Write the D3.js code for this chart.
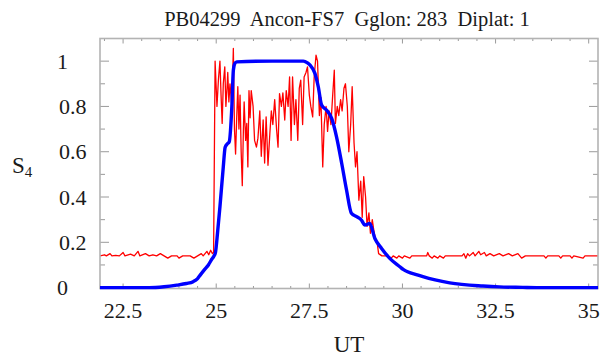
<!DOCTYPE html>
<html><head><meta charset="utf-8">
<script src="https://cdn.jsdelivr.net/npm/d3@7"></script>
<style>
body{margin:0;background:#fff}
text{font-family:"Liberation Serif","Times New Roman",serif;fill:#1a1a1a}
</style>
</head><body>
<svg id="c" width="600" height="357"></svg>
<script>
const title = "PB04299  Ancon-FS7  Gglon: 283  Diplat: 1";
const xLabel = "UT";
const xTicks = [22.5, 25, 27.5, 30, 32.5, 35];
const xTickLabels = ["22.5", "25", "27.5", "30", "32.5", "35"];
const yTicks = [0, 0.2, 0.4, 0.6, 0.8, 1];
const yTickLabels = ["0", "0.2", "0.4", "0.6", "0.8", "1"];

const blueUT = [21.88, 23.2, 23.6, 23.94, 24.2, 24.38, 24.5, 24.57, 24.68, 24.79, 24.88, 24.94, 24.98, 25.04, 25.1, 25.19, 25.24, 25.3, 25.35, 25.42, 25.46, 25.5, 25.55, 26.5, 27.34, 27.45, 27.52, 27.65, 27.74, 27.83, 27.96, 28.1, 28.23, 28.37, 28.5, 28.63, 28.77, 28.9, 28.99, 29.12, 29.26, 29.44, 29.66, 29.93, 30.02, 30.42, 30.55, 31.27, 32.16, 32.6, 33.23, 33.6, 35.25];
const blueS4 = [0, 0, 0.004, 0.011, 0.018, 0.026, 0.04, 0.055, 0.078, 0.1, 0.125, 0.139, 0.155, 0.25, 0.357, 0.533, 0.62, 0.635, 0.644, 0.8, 0.96, 0.99, 0.997, 1.0, 1.0, 0.992, 0.982, 0.946, 0.887, 0.806, 0.784, 0.747, 0.666, 0.548, 0.43, 0.328, 0.313, 0.298, 0.276, 0.283, 0.217, 0.173, 0.129, 0.092, 0.08, 0.055, 0.048, 0.021, 0.007, 0.003, 0.001, 0, 0];

const redUT = [21.88, 22.0, 22.05, 22.15, 22.2, 22.3, 22.4, 22.5, 22.55, 22.7, 22.8, 22.9, 22.95, 23.1, 23.2, 23.3, 23.4, 23.5, 23.6, 23.7, 23.8, 23.95, 24.0, 24.1, 24.3, 24.4, 24.5, 24.6, 24.65, 24.75, 24.8, 24.85, 24.9, 24.93,
 24.97, 25.02, 25.06, 25.1, 25.13, 25.16, 25.19, 25.23, 25.26, 25.29, 25.31, 25.34, 25.37, 25.42, 25.46, 25.49, 25.52, 25.55, 25.58, 25.61, 25.64, 25.67, 25.7, 25.73, 25.75, 25.79, 25.82, 25.85, 25.88, 25.91,
 25.94, 25.99, 26.03, 26.08, 26.12, 26.17, 26.21, 26.26, 26.3, 26.34, 26.39, 26.44, 26.48, 26.52, 26.57, 26.62, 26.66, 26.7, 26.75, 26.79, 26.84, 26.88, 26.93, 26.97, 27.01,
 27.05, 27.1, 27.14, 27.19, 27.23, 27.27, 27.32, 27.36, 27.41, 27.45, 27.5, 27.54, 27.59, 27.63, 27.68, 27.72, 27.77, 27.81, 27.86, 27.9, 27.95, 27.99, 28.03, 28.08, 28.12, 28.17,
 28.2, 28.25, 28.29, 28.34, 28.38, 28.43, 28.47, 28.52, 28.56, 28.61, 28.65, 28.7, 28.74, 28.78, 28.83, 28.88, 28.92, 28.96, 29.01, 29.05, 29.1, 29.14, 29.19, 29.23, 29.28, 29.32,
 29.36, 29.45, 29.6, 29.7, 29.75, 29.85, 29.9, 30.0, 30.05, 30.2, 30.25, 30.5, 30.65, 30.68, 30.72, 30.8, 30.85, 30.95, 31.0, 31.1, 31.15, 31.3, 31.6, 31.65, 31.7, 31.75, 31.8, 31.9, 31.95, 32.05, 32.1, 32.2, 32.25, 32.35, 32.45, 32.6, 32.7, 32.85, 32.95, 33.1, 33.2, 33.3, 33.8, 33.85, 33.9, 34.2, 34.25, 34.3, 34.5, 34.55, 34.6, 34.85, 34.9, 35.25];
const redS4 = [0.14, 0.145, 0.14, 0.15, 0.14, 0.142, 0.14, 0.155, 0.14, 0.148, 0.14, 0.16, 0.14, 0.15, 0.14, 0.145, 0.14, 0.15, 0.14, 0.13, 0.14, 0.14, 0.13, 0.14, 0.14, 0.13, 0.14, 0.15, 0.14, 0.16, 0.145, 0.165, 0.15, 0.155,
 1.0, 0.8, 0.92, 1.0, 0.85, 0.725, 0.9, 0.975, 0.8, 0.88, 0.95, 0.82, 0.9, 0.8, 1.056, 0.7, 0.59, 0.75, 0.887, 0.7, 0.85, 0.6, 0.45, 0.7, 0.82, 0.65, 0.725, 0.533, 0.87, 0.75,
 0.87, 0.8, 0.65, 0.62, 0.66, 0.78, 0.58, 0.74, 0.55, 0.754, 0.54, 0.68, 0.78, 0.72, 0.83, 0.7, 0.62, 0.857, 0.8, 0.86, 0.74, 0.87, 0.8, 0.93, 0.65,
 0.93, 0.72, 0.83, 0.65, 0.88, 0.916, 0.72, 0.93, 0.95, 0.975, 0.85, 0.8, 0.754, 0.93, 1.027, 1.0, 0.76, 0.84, 0.533, 0.72, 0.8, 0.69, 0.78, 0.72, 0.83, 0.96,
 0.725, 0.8, 0.76, 0.83, 0.78, 0.88, 0.9, 0.8, 0.6, 0.72, 0.887, 0.64, 0.533, 0.6, 0.386, 0.47, 0.31, 0.49, 0.4, 0.27, 0.33, 0.24, 0.3, 0.254, 0.21, 0.2,
 0.15, 0.14, 0.14, 0.13, 0.14, 0.13, 0.14, 0.13, 0.14, 0.13, 0.14, 0.14, 0.14, 0.155, 0.14, 0.13, 0.14, 0.13, 0.14, 0.13, 0.14, 0.14, 0.14, 0.15, 0.13, 0.15, 0.14, 0.155, 0.14, 0.16, 0.145, 0.155, 0.14, 0.15, 0.14, 0.15, 0.14, 0.15, 0.14, 0.15, 0.13, 0.14, 0.14, 0.13, 0.14, 0.14, 0.13, 0.14, 0.14, 0.13, 0.14, 0.13, 0.14, 0.14];

const svg = d3.select("#c");
const L = 100, R = 598, T = 38.5, B = 288.5;
const x = d3.scaleLinear().domain([21.88, 35.25]).range([L, R]);
const y = d3.scaleLinear().domain([-0.004, 1.1]).range([B, T]);

const xMinor = d3.range(22, 35.01, 0.5);
const yMinor = d3.range(0, 1.051, 0.1);
const frameCol = "#b3b3b3", tickCol = "#9a9a9a";

svg.append("clipPath").attr("id", "pc").append("rect")
  .attr("x", L).attr("y", T).attr("width", R - L).attr("height", B - T + 2);

// ticks
const tg = svg.append("g").attr("stroke", tickCol).attr("stroke-width", 1);
xMinor.forEach(v => {
  const major = xTicks.some(t => Math.abs(t - v) < 1e-6);
  const len = major ? 5 : 2.5;
  tg.append("line").attr("x1", x(v)).attr("x2", x(v)).attr("y1", B).attr("y2", B - len);
  tg.append("line").attr("x1", x(v)).attr("x2", x(v)).attr("y1", T).attr("y2", T + len);
});
yMinor.forEach(v => {
  const major = yTicks.some(t => Math.abs(t - v) < 1e-6);
  const len = major ? 9 : 5;
  tg.append("line").attr("x1", L).attr("x2", L + len).attr("y1", y(v)).attr("y2", y(v));
  tg.append("line").attr("x1", R).attr("x2", R - len).attr("y1", y(v)).attr("y2", y(v));
});

const line = d3.line().x(d => x(d[0])).y(d => y(d[1]));
const plot = svg.append("g").attr("clip-path", "url(#pc)");
plot.append("path").datum(redUT.map((u, i) => [u, redS4[i]]))
  .attr("d", line).attr("fill", "none").attr("stroke", "#ff0000")
  .attr("stroke-width", 1.3).attr("stroke-linejoin", "round");

// frame
svg.append("rect").attr("x", L).attr("y", T).attr("width", R - L).attr("height", B - T)
  .attr("fill", "none").attr("stroke", frameCol).attr("stroke-width", 1.6);

svg.append("path").datum(blueUT.map((u, i) => [u, blueS4[i]]))
  .attr("d", d3.line().x(d => x(d[0])).y(d => y(d[1])).curve(d3.curveMonotoneX))
  .attr("fill", "none").attr("stroke", "#0000ff")
  .attr("stroke-width", 3.4).attr("stroke-linejoin", "round");

// tick labels
const fs = 22;
xTicks.forEach((t, i) => {
  svg.append("text").attr("x", x(t)).attr("y", 318).attr("text-anchor", "middle")
    .attr("font-size", fs).text(xTickLabels[i]);
});
yTicks.forEach((t, i) => {
  const lab = yTickLabels[i];
  const xr = lab.includes(".") ? 86.5 : 68;
  svg.append("text").attr("x", xr).attr("y", y(t) + 7.5).attr("text-anchor", "end")
    .attr("font-size", fs).text(lab);
});

// title
svg.append("text").attr("x", 347).attr("y", 26).attr("text-anchor", "middle")
  .attr("font-size", 20.5).style("white-space", "pre").text(title);

// axis labels
svg.append("text").attr("x", 349).attr("y", 352).attr("text-anchor", "middle")
  .attr("font-size", 23).text(xLabel);
const yl = svg.append("text").attr("x", 12).attr("y", 173).attr("font-size", 23);
yl.append("tspan").text("S");
yl.append("tspan").attr("font-size", 15).attr("dy", 4).text("4");
</script>
</body></html>
